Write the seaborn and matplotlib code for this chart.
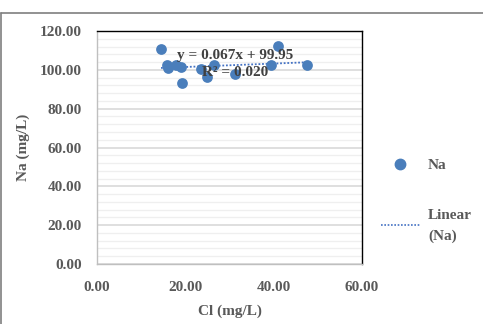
import pandas as pd
import numpy as np
import matplotlib
matplotlib.use("Agg")
import matplotlib.pyplot as plt
from matplotlib.lines import Line2D
from matplotlib.ticker import MultipleLocator
import seaborn as sns

# data
cl = [14.5, 15.8, 16.0, 17.8, 19.0, 19.3, 23.5, 24.9, 26.5, 31.2, 39.3, 41.0, 47.6]
na = [110.7, 102.5, 101.0, 102.5, 101.4, 93.4, 100.4, 96.3, 102.5, 97.8, 102.5, 112.3, 102.5]
eq_text = "y = 0.067x + 99.95"
r2_text = "R² = 0.020"

df = pd.DataFrame({"Cl": cl, "Na": na})

sns.set_theme(style="white")
plt.rcParams["font.family"] = ["Liberation Serif", "DejaVu Serif"]
plt.rcParams["font.weight"] = "bold"

blue = "#4a7ebb"
txt = "#595959"

fig = plt.figure(figsize=(4.83, 3.24), dpi=100)
ax = fig.add_axes([0.2008, 0.1852, 0.5487, 0.7191])

sns.scatterplot(data=df, x="Cl", y="Na", ax=ax, color=blue, s=60,
                edgecolor=blue, linewidth=0, zorder=3)
sns.regplot(data=df, x="Cl", y="Na", ax=ax, scatter=False, ci=None, truncate=True,
            line_kws=dict(color="#4472c4", linestyle=(0, (1, 1)), linewidth=1.3, zorder=2))

ax.set_xlim(0, 60)
ax.set_ylim(0, 120)
ax.xaxis.set_major_locator(MultipleLocator(20))
ax.yaxis.set_major_locator(MultipleLocator(20))
ax.yaxis.set_minor_locator(MultipleLocator(4))
ax.xaxis.set_major_formatter(matplotlib.ticker.FormatStrFormatter("%.2f"))
ax.yaxis.set_major_formatter(matplotlib.ticker.FormatStrFormatter("%.2f"))

ax.grid(axis="y", which="major", color="#d9d9d9", linewidth=1.2)
ax.grid(axis="y", which="minor", color="#efefef", linewidth=0.9)
ax.grid(axis="x", which="both", visible=False)
ax.set_axisbelow(True)

for s in ["left", "bottom"]:
    ax.spines[s].set_color("#bfbfbf")
    ax.spines[s].set_linewidth(1)
for s in ["top", "right"]:
    ax.spines[s].set_color("#000000")
    ax.spines[s].set_linewidth(1)

ax.tick_params(axis="both", which="major", direction="out", length=5, width=1,
               color="#bfbfbf", labelsize=11, labelcolor=txt)
ax.tick_params(axis="x", pad=7)
ax.tick_params(axis="y", which="minor", length=0)
ax.tick_params(axis="y", pad=6)
for lab in ax.get_xticklabels() + ax.get_yticklabels():
    lab.set_fontweight("bold")

ax.set_xlabel("Cl (mg/L)", fontsize=11, fontweight="bold", color=txt, labelpad=8)
ax.set_ylabel("Na (mg/L)", fontsize=11, fontweight="bold", color=txt, labelpad=7)

ax.text(0.52, 0.897, eq_text, transform=ax.transAxes, ha="center", va="center",
        fontsize=11, fontweight="bold", color="#404040", zorder=4)
ax.text(0.52, 0.822, r2_text, transform=ax.transAxes, ha="center", va="center",
        fontsize=11, fontweight="bold", color="#404040", zorder=4)

handles = [
    Line2D([], [], marker="o", linestyle="none", color=blue, markersize=7.5),
    Line2D([], [], color="#4472c4", linestyle=(0, (1, 1)), linewidth=1.2),
]
leg = fig.legend(handles, ["Na", "Linear\n(Na)"], loc="upper left",
                 bbox_to_anchor=(0.772, 0.535), frameon=False, fontsize=11,
                 labelspacing=2.4, handlelength=2.6, handletextpad=0.5, borderpad=0)
for t in leg.get_texts():
    t.set_color(txt)
    t.set_fontweight("bold")
    t.set_linespacing(1.75)

# outer chart border (top and left visible)
fig.add_artist(Line2D([0.002, 1.0], [0.961, 0.961], transform=fig.transFigure,
                      color="#7f7f7f", linewidth=1.2))
fig.add_artist(Line2D([0.002, 0.002], [0.0, 0.961], transform=fig.transFigure,
                      color="#7f7f7f", linewidth=1.2))

fig.savefig("out.png", dpi=100)
